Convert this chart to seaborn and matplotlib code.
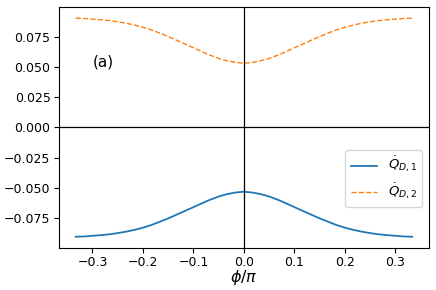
import matplotlib
matplotlib.use('Agg')
import matplotlib.pyplot as plt
import seaborn as sns
import numpy as np

# phi / pi sample points
phi = [-0.3333, -0.3167, -0.3000, -0.2833, -0.2667, -0.2500, -0.2333, -0.2167,
       -0.2000, -0.1833, -0.1667, -0.1500, -0.1333, -0.1167, -0.1000, -0.0833,
       -0.0667, -0.0500, -0.0333, -0.0167, 0.0000, 0.0167, 0.0333, 0.0500,
       0.0667, 0.0833, 0.1000, 0.1167, 0.1333, 0.1500, 0.1667, 0.1833,
       0.2000, 0.2167, 0.2333, 0.2500, 0.2667, 0.2833, 0.3000, 0.3167, 0.3333]

# heat current of reservoir 1 (negative branch)
q_d1 = [-0.0905, -0.0903, -0.0897, -0.0892, -0.0885, -0.0875, -0.0863, -0.0848,
        -0.0830, -0.0808, -0.0781, -0.0753, -0.0722, -0.0691, -0.0660, -0.0628,
        -0.0598, -0.0572, -0.0552, -0.0539, -0.0532, -0.0539, -0.0552, -0.0572,
        -0.0598, -0.0628, -0.0660, -0.0691, -0.0722, -0.0753, -0.0781, -0.0808,
        -0.0830, -0.0848, -0.0863, -0.0875, -0.0885, -0.0892, -0.0897, -0.0903, -0.0905]

# heat current of reservoir 2 (positive branch)
q_d2 = [0.0905, 0.0903, 0.0897, 0.0892, 0.0885, 0.0875, 0.0863, 0.0848,
        0.0830, 0.0808, 0.0781, 0.0753, 0.0722, 0.0691, 0.0660, 0.0628,
        0.0598, 0.0572, 0.0552, 0.0539, 0.0532, 0.0539, 0.0552, 0.0572,
        0.0598, 0.0628, 0.0660, 0.0691, 0.0722, 0.0753, 0.0781, 0.0808,
        0.0830, 0.0848, 0.0863, 0.0875, 0.0885, 0.0892, 0.0897, 0.0903, 0.0905]

y_ticks = [-0.075, -0.050, -0.025, 0.000, 0.025, 0.050, 0.075]

fig, ax = plt.subplots(figsize=(4.36, 2.90), dpi=100)
fig.subplots_adjust(left=0.135, right=0.984, bottom=0.146, top=0.975)

sns.lineplot(x=phi, y=q_d1, ax=ax, color='#1f77b4', lw=1.3,
             label=r'$\dot{Q}_{D,1}$')
sns.lineplot(x=phi, y=q_d2, ax=ax, color='#ff7f0e', lw=1.0, linestyle='--',
             label=r'$\dot{Q}_{D,2}$')

ax.axhline(0, color='black', lw=0.9)
ax.axvline(0, color='black', lw=0.9)

ax.set_yticks(y_ticks)
ax.tick_params(labelsize=9, pad=2.5)
ax.set_xlabel(r'$\phi/\pi$', fontsize=11.5, labelpad=-1)

ax.text(-0.30, 0.054, '(a)', fontsize=11, va='center', ha='left')

ax.legend(loc='lower right', bbox_to_anchor=(1.0, 0.14), fontsize=9.5)

plt.savefig('out.png', dpi=100)
plt.close()
